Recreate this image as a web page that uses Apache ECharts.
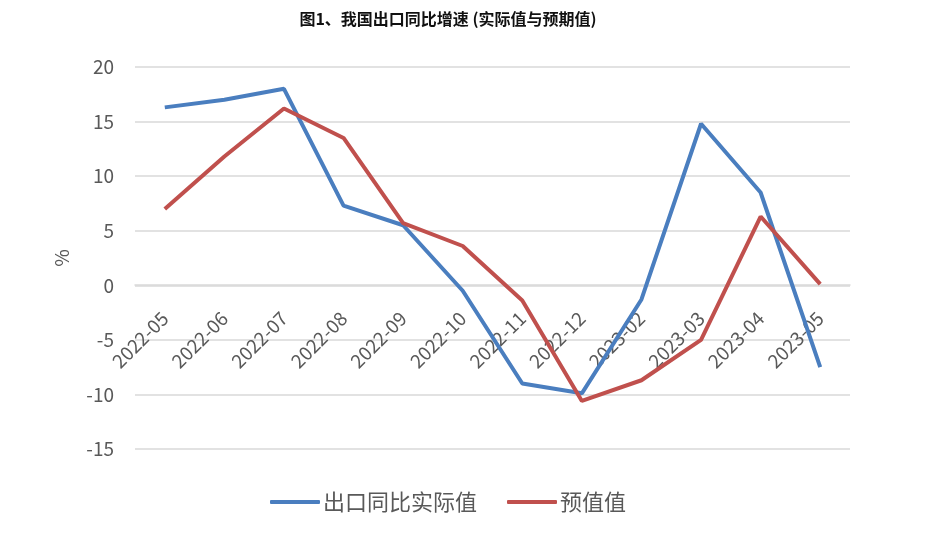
<!DOCTYPE html>
<html>
<head>
<meta charset="utf-8">
<script src="https://cdn.jsdelivr.net/npm/echarts@6/dist/echarts.min.js"></script>
<style>
  html, body { margin: 0; padding: 0; background: #fff; }
  #main { width: 928px; height: 543px; }
</style>
</head>
<body>
<div id="main"></div>
<script>
// months on the x axis
var months = ['2022-05', '2022-06', '2022-07', '2022-08', '2022-09', '2022-10',
              '2022-11', '2022-12', '2023-02', '2023-03', '2023-04', '2023-05'];

// export growth yoy, actual vs expected (%)
var actualValues = [16.3, 17.0, 18.0, 7.3, 5.5, -0.5, -9.0, -9.9, -1.3, 14.8, 8.5, -7.5];
var expectValues = [7.0, 11.8, 16.2, 13.5, 5.7, 3.6, -1.4, -10.6, -8.7, -5.0, 6.3, 0.1];

var seriesNames = ['出口同比实际值', '预值值'];

var labelColor = '#595959',
    gridColor = '#d9d9d9',
    cnFont = '"Noto Sans CJK SC", "Noto Sans", sans-serif';

var myChart = echarts.init(document.getElementById('main'));

var option = {
  animation: false,
  textStyle: { fontFamily: cnFont },
  title: {
    text: '图1、我国出口同比增速 (实际值与预期值)',
    left: 443,
    textAlign: 'center',
    top: 6,
    textStyle: { fontSize: 16, fontWeight: 'bold', color: '#111', fontFamily: cnFont }
  },
  legend: {
    top: 486,
    left: 265,
    itemWidth: 50,
    itemHeight: 4,
    itemGap: 30,
    icon: 'roundRect',
    data: seriesNames,
    textStyle: { fontSize: 22, color: labelColor, padding: [0, 0, 0, -2] }
  },
  grid: {
    left: 135,
    right: 78,
    top: 67,
    bottom: 94
  },
  xAxis: {
    type: 'category',
    data: months,
    boundaryGap: true,
    // pull the axis up to the zero line, like the original
    offset: -164,
    axisLine: { show: true, onZero: false, lineStyle: { color: gridColor, width: 1.5 } },
    axisTick: { show: false },
    axisLabel: {
      rotate: 45,
      margin: 30,
      fontSize: 19,
      color: labelColor
    }
  },
  yAxis: {
    type: 'value',
    min: -15,
    max: 20,
    interval: 5,
    name: '%',
    nameLocation: 'middle',
    nameGap: 64,
    nameRotate: 90,
    nameTextStyle: { fontSize: 19, color: labelColor },
    axisLine: { show: false },
    axisTick: { show: false },
    axisLabel: { fontSize: 19, color: labelColor, margin: 21 },
    splitLine: { lineStyle: { color: gridColor, width: 1.5 } }
  },
  series: [
    {
      name: seriesNames[0],
      type: 'line',
      data: actualValues,
      showSymbol: false,
      symbol: 'none',
      lineStyle: { width: 4, color: '#4A7EBF' },
      itemStyle: { color: '#4A7EBF' }
    },
    {
      name: seriesNames[1],
      type: 'line',
      data: expectValues,
      showSymbol: false,
      symbol: 'none',
      lineStyle: { width: 4, color: '#C0504D' },
      itemStyle: { color: '#C0504D' }
    }
  ]
};

myChart.setOption(option);
</script>
</body>
</html>
